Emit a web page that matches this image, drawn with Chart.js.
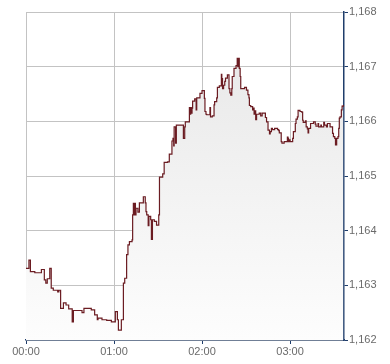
<!DOCTYPE html>
<html>
<head>
<meta charset="utf-8">
<script src="https://cdn.jsdelivr.net/npm/chart.js@4/dist/chart.umd.min.js"></script>
<style>
  html, body { margin: 0; padding: 0; background: #fff; }
  #Chart { display: block; }
</style>
</head>
<body>
<canvas id="Chart" width="390" height="364"></canvas>
<script>
// minutes since 00:00
const times = [
  0, 2, 3, 6, 10.5, 12.5, 13.5, 14.5, 16.2, 17.2, 18.6, 21.6, 22.4, 23.6, 25.5, 27.3, 29.1, 31.5, 32.3, 38.2,
  39.5, 44.5, 46.8, 48.6, 49.1, 51.8, 55, 58.2, 60.9, 62.3, 63, 65, 66.4, 67.3, 68.6, 69.5, 70.5, 72.3, 72.7, 73.2,
  73.6, 74.1, 74.6, 75, 76.3, 77.3, 80, 81.3, 81.8, 82.3, 83.3, 83.8, 85, 85.5, 86.2, 87.5, 89, 90.5, 91, 93.2,
  94.2, 96.5, 97.7, 99.5, 100.2, 100.7, 101, 102, 102.5, 107.3, 108.2, 108.6, 111.4, 111.8, 112.3, 112.7, 113.2, 113.6, 115, 116,
  116.4, 118.6, 120, 121.6, 122, 122.7, 123.2, 125.4, 125.8, 127, 128.2, 128.6, 130, 130.5, 131.8, 133.2, 133.5, 134, 134.7, 135.5,
  136, 137.3, 138.4, 139, 139.6, 140.3, 140.6, 141.8, 143.2, 144, 144.4, 144.8, 145.4, 146, 146.4, 149, 150.3, 151.3, 152, 152.3,
  153.2, 154.5, 155, 155.5, 156, 156.6, 157.2, 159, 160, 161, 163.2, 164, 165, 166, 166.5, 167.3, 168, 169.5, 171.5, 172.3,
  172.7, 174, 174.5, 176, 178.2, 178.6, 179, 179.5, 180, 181.8, 182.3, 183.6, 184.1, 185, 185.5, 186.8, 188, 188.6, 189, 190.5,
  191, 191.8, 192.3, 192.7, 194, 196, 197.2, 197.7, 199.1, 199.5, 201, 201.4, 203, 203.5, 204.8, 205.5, 207.3, 209, 209.6, 210.5,
  211, 211.8, 212.7, 213.2, 213.6, 214.1, 215, 215.5, 216.4
];
const prices = [
  1163.31, 1163.46, 1163.25, 1163.23, 1163.29, 1163.10, 1163.04, 1163.12, 1163.31, 1162.95, 1162.91, 1162.88, 1162.91, 1162.58, 1162.68, 1162.64, 1162.57, 1162.33, 1162.54, 1162.50,
  1162.58, 1162.55, 1162.46, 1162.37, 1162.40, 1162.37, 1162.36, 1162.33, 1162.52, 1162.37, 1162.18, 1162.37, 1163.04, 1163.13, 1163.56, 1163.74, 1163.80, 1163.83, 1164.29, 1164.50,
  1164.29, 1164.50, 1164.29, 1164.41, 1164.34, 1164.51, 1164.62, 1164.51, 1164.35, 1164.29, 1164.09, 1164.26, 1164.20, 1163.84, 1164.20, 1164.17, 1164.10, 1164.29, 1164.98, 1165.04,
  1165.25, 1165.26, 1165.40, 1165.64, 1165.69, 1165.55, 1165.90, 1165.60, 1165.93, 1165.69, 1165.90, 1165.99, 1166.25, 1166.13, 1166.25, 1166.15, 1166.24, 1166.37, 1166.41, 1166.21,
  1166.43, 1166.51, 1166.56, 1166.42, 1166.18, 1166.13, 1166.12, 1166.25, 1166.08, 1166.10, 1166.30, 1166.36, 1166.43, 1166.62, 1166.65, 1166.86, 1166.78, 1166.60, 1166.66, 1166.73,
  1166.79, 1166.85, 1166.60, 1166.52, 1166.48, 1166.60, 1166.82, 1166.97, 1167.02, 1167.15, 1167.00, 1167.15, 1166.97, 1166.82, 1166.60, 1166.62, 1166.57, 1166.49, 1166.43, 1166.29,
  1166.27, 1166.21, 1166.24, 1166.13, 1166.19, 1166.03, 1166.13, 1166.15, 1166.10, 1166.15, 1166.07, 1165.99, 1165.84, 1165.77, 1165.81, 1165.87, 1165.85, 1165.87, 1165.85, 1165.83,
  1165.79, 1165.63, 1165.60, 1165.63, 1165.71, 1165.69, 1165.63, 1165.66, 1165.63, 1165.69, 1165.81, 1165.96, 1166.04, 1166.08, 1166.20, 1166.18, 1166.17, 1166.02, 1165.98, 1166.01,
  1165.90, 1165.86, 1165.79, 1165.87, 1165.96, 1165.99, 1165.95, 1165.91, 1165.96, 1165.90, 1165.93, 1165.90, 1165.98, 1165.93, 1165.90, 1165.96, 1165.90, 1165.78, 1165.72, 1165.69,
  1165.57, 1165.69, 1165.72, 1165.87, 1166.06, 1166.08, 1166.21, 1166.28, 1166.30
];
const timeLabels = ["00:00", "01:00", "02:00", "03:00"];
const priceTicks = [1162, 1163, 1164, 1165, 1166, 1167, 1168];

const axisBlue = "#1f3d6b";
const gridGrey = "#c3c3c3";
const labelFont = { family: "'Liberation Sans', Arial, sans-serif", size: 11 };

const points = [];
for (var i = 0; i < times.length; i++) {
  points.push({ x: times[i], y: prices[i] });
}

const ctx = document.getElementById("Chart").getContext("2d");
const myChart = new Chart(ctx, {
  type: "line",
  data: {
    datasets: [
      {
        data: points,
        stepped: true,
        borderColor: "#6b1c22",
        borderWidth: 1.2,
        pointRadius: 0,
        fill: "start",
        backgroundColor: function (context) {
          const area = context.chart.chartArea;
          if (!area) return "#eeeeee";
          const g = context.chart.ctx.createLinearGradient(0, area.top, 0, area.bottom);
          g.addColorStop(0, "#e6e6e6");
          g.addColorStop(1, "#fdfdfd");
          return g;
        },
      },
    ],
  },
  options: {
    responsive: false,
    animation: false,
    devicePixelRatio: 1,
    layout: { padding: { left: 26, top: 12, right: 0, bottom: 0 } },
    plugins: { legend: { display: false }, tooltip: { enabled: false } },
    scales: {
      x: {
        type: "linear",
        min: 0,
        max: 216.8,
        afterBuildTicks: function (scale) {
          scale.ticks = timeLabels.map(function (t, i) { return { value: i * 60 }; });
        },
        afterFit: function (scale) { scale.height = 24; },
        ticks: {
          font: labelFont,
          color: "#6a6a6a",
          padding: 1,
          maxRotation: 0,
          callback: function (v) { return timeLabels[v / 60]; },
        },
        grid: { color: gridGrey, tickColor: axisBlue, tickLength: 4, lineWidth: 1 },
        border: { color: axisBlue, width: 1.5 },
      },
      y: {
        position: "right",
        min: 1162,
        max: 1168,
        afterBuildTicks: function (scale) {
          scale.ticks = priceTicks.map(function (v) { return { value: v }; });
        },
        afterFit: function (scale) { scale.width = 46; },
        ticks: {
          font: labelFont,
          color: "#6a6a6a",
          padding: 1,
          callback: function (v) { return v.toLocaleString("en-US"); },
        },
        grid: { color: gridGrey, tickColor: axisBlue, tickLength: 4, lineWidth: 1 },
        border: { color: axisBlue, width: 1.5 },
      },
    },
  },
});
</script>
</body>
</html>
